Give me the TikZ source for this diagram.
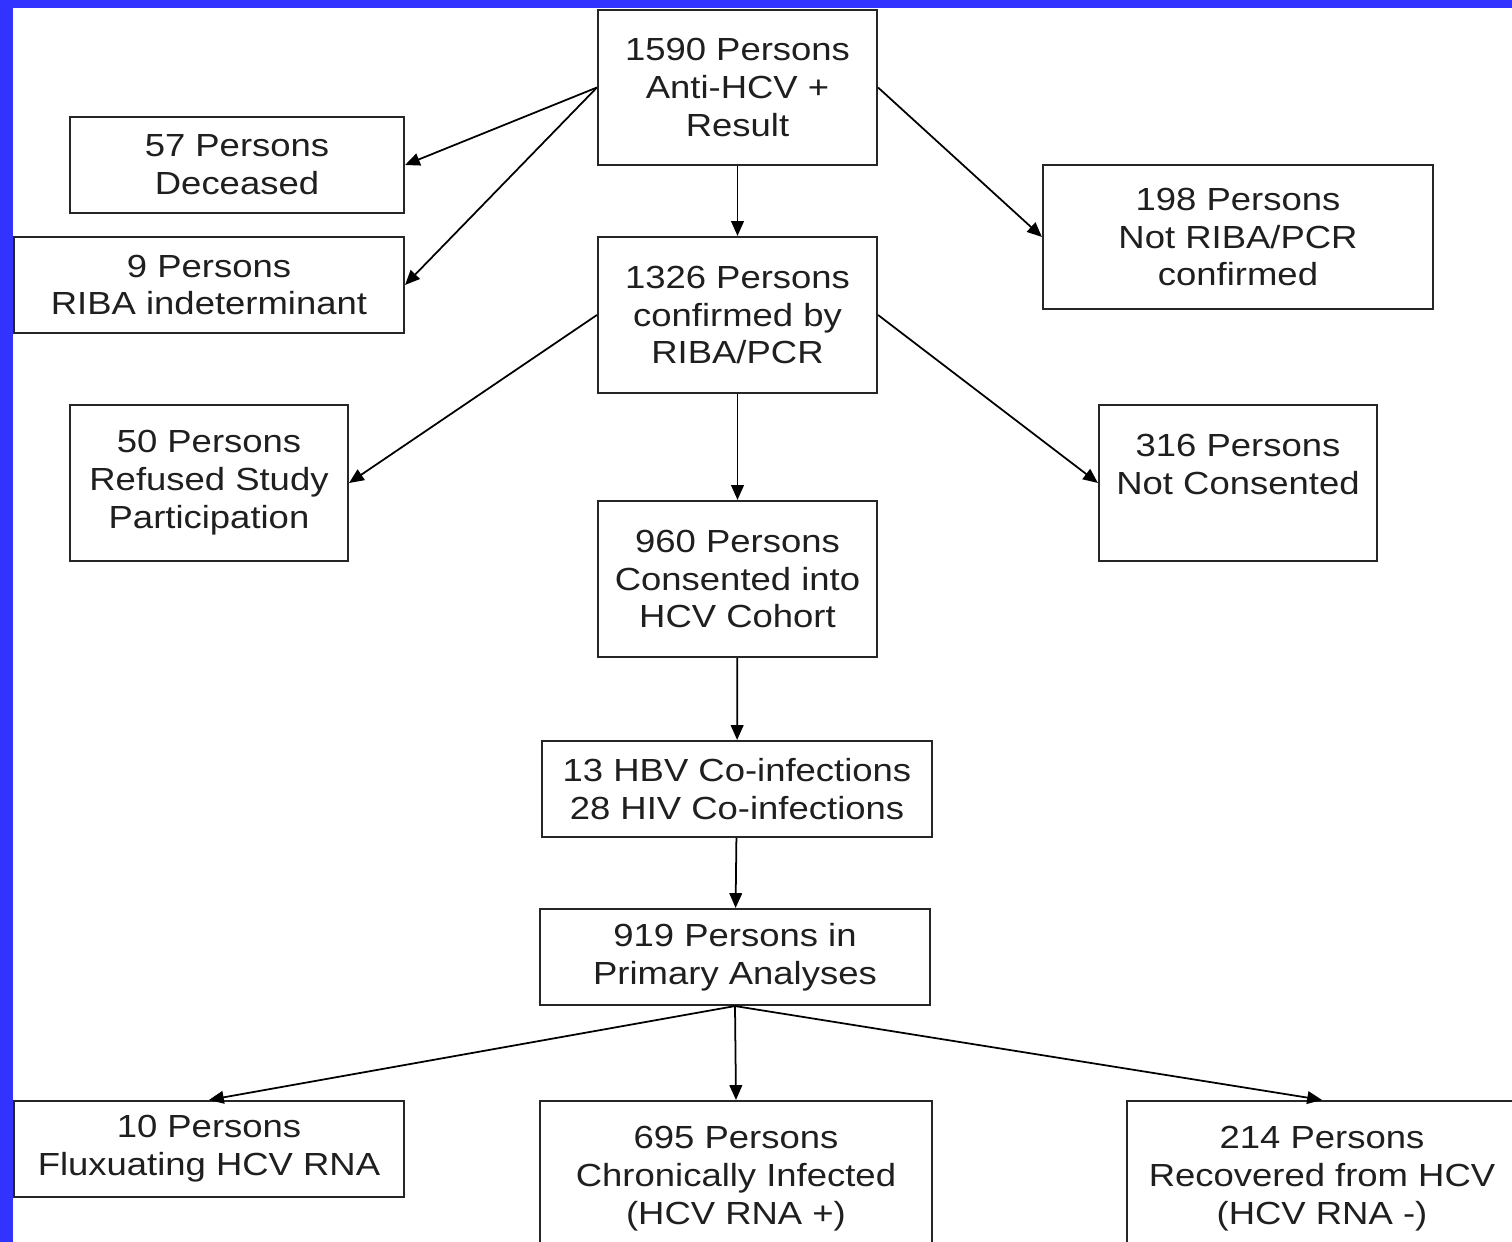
\documentclass[tikz,border=0pt]{standalone}
\usepackage{fontspec}
\setmainfont[FakeStretch=1.14]{Liberation Sans}
\usetikzlibrary{arrows.meta}
\definecolor{slideblue}{RGB}{51,51,255}

\begin{document}
\begin{tikzpicture}[every node/.style={draw=black!85, line width=0.6pt, align=center, inner sep=0pt, text=black!88, font=\fontsize{9.1}{10.8}\selectfont},
    flow/.style={-{Triangle[length=4.2pt,width=3.6pt]}, line width=0.5pt}]
            \useasboundingbox (0,0) rectangle (15.12,-12.42);
            \fill[slideblue] (0,0) rectangle (15.12,-12.42);
            \fill[white] (0.125,-0.08) rectangle (15.12,-12.42);
            \clip (0.125,-0.08) rectangle (15.12,-12.42);
            \node[minimum width=2.79cm, minimum height=1.55cm] (anti) at (7.375,-0.875) {1590 Persons\\Anti-HCV +\\Result};
            \node[minimum width=3.34cm, minimum height=0.96cm] (dec) at (2.37,-1.65) {57 Persons\\Deceased};
            \node[minimum width=3.90cm, minimum height=0.96cm] (riba) at (2.09,-2.85) {9 Persons\\RIBA indeterminant};
            \node[minimum width=3.90cm, minimum height=1.44cm] (notconf) at (12.38,-2.37) {198 Persons\\Not RIBA/PCR\\confirmed};
            \node[minimum width=2.79cm, minimum height=1.56cm] (conf) at (7.375,-3.15) {1326 Persons\\confirmed by\\RIBA/PCR};
            \node[minimum width=2.78cm, minimum height=1.56cm] (refus) at (2.09,-4.83) {50 Persons\\Refused Study\\Participation};
            \node[minimum width=2.78cm, minimum height=1.56cm] (notcons) at (12.38,-4.83) {316 Persons\\Not Consented\\\mbox{}};
            \node[minimum width=2.79cm, minimum height=1.56cm] (cohort) at (7.375,-5.79) {960 Persons\\Consented into\\HCV Cohort};
            \node[minimum width=3.90cm, minimum height=0.96cm] (coinf) at (7.37,-7.89) {13 HBV Co-infections\\28 HIV Co-infections};
            \node[minimum width=3.90cm, minimum height=0.96cm] (prim) at (7.35,-9.57) {919 Persons in\\Primary Analyses};
            \node[minimum width=3.90cm, minimum height=0.96cm] (flux) at (2.09,-11.49) {10 Persons\\Fluxuating HCV RNA};
            \node[minimum width=3.92cm, minimum height=1.56cm] (chron) at (7.36,-11.79) {695 Persons\\Chronically Infected\\(HCV RNA +)};
            \node[minimum width=3.90cm, minimum height=1.56cm] (recov) at (13.22,-11.79) {214 Persons\\Recovered from HCV\\(HCV RNA -)};
            \draw[flow] (anti.west) -- (dec.east);
            \draw[flow] (anti.west) -- (riba.east);
            \draw[flow] (anti.east) -- (notconf.west);
            \draw[flow] (anti) -- (conf);
            \draw[flow] (conf.west) -- (refus.east);
            \draw[flow] (conf.east) -- (notcons.west);
            \draw[flow] (conf) -- (cohort);
            \draw[flow] (cohort) -- (coinf);
            \draw[flow] (coinf) -- (prim);
            \draw[flow] (prim.south) -- (flux.north);
            \draw[flow] (prim.south) -- (chron.north);
            \draw[flow] (prim.south) -- (recov.north);
        \end{tikzpicture}
\end{document}
